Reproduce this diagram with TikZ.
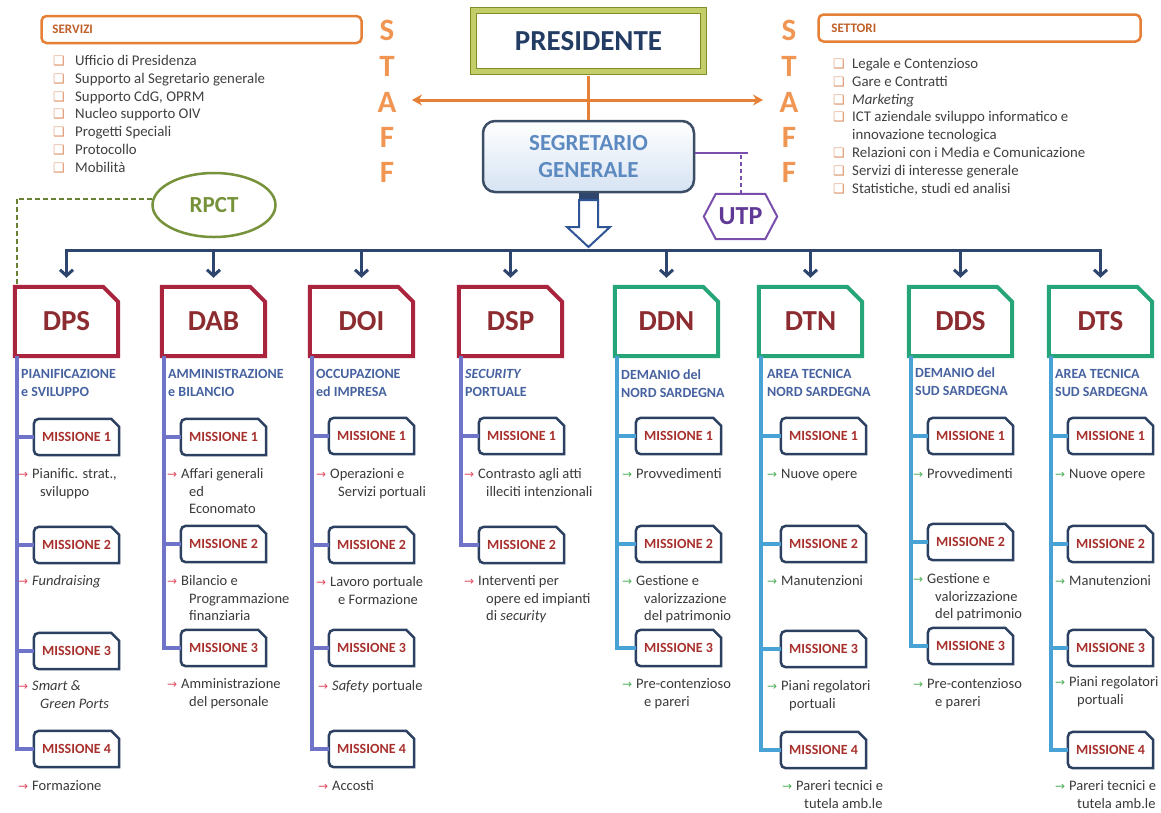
\documentclass[tikz,border=0pt]{standalone}
\usepackage{fontspec}
\setmainfont{Carlito}
\newfontfamily\symfont{DejaVu Sans}
\usetikzlibrary{arrows.meta,shapes.geometric}

\definecolor{staffor}{RGB}{241,150,82}
\definecolor{boxor}{RGB}{230,128,55}
\definecolor{hdror}{RGB}{192,96,40}
\definecolor{bulor}{RGB}{222,150,110}
\definecolor{listtx}{RGB}{64,64,64}
\definecolor{olivedk}{RGB}{130,140,40}
\definecolor{olivelt}{RGB}{196,206,104}
\definecolor{presid}{RGB}{35,60,100}
\definecolor{sgbd}{RGB}{60,78,102}
\definecolor{sgfill}{RGB}{214,227,243}
\definecolor{sgtx}{RGB}{92,138,192}
\definecolor{utpc}{RGB}{122,78,172}
\definecolor{utptx}{RGB}{96,56,150}
\definecolor{rpctc}{RGB}{118,146,58}
\definecolor{rpctdk}{RGB}{104,130,50}
\definecolor{busnavy}{RGB}{46,70,110}
\definecolor{blkarr}{RGB}{47,85,151}
\definecolor{dred}{RGB}{170,36,62}
\definecolor{dgreen}{RGB}{38,166,120}
\definecolor{dredtx}{RGB}{140,44,48}
\definecolor{subbl}{RGB}{70,98,160}
\definecolor{lavln}{RGB}{112,116,200}
\definecolor{skyln}{RGB}{72,162,214}
\definecolor{misbd}{RGB}{44,64,98}
\definecolor{mistx}{RGB}{168,48,44}
\definecolor{arrred}{RGB}{226,80,100}
\definecolor{arrgrn}{RGB}{86,178,96}
\definecolor{desctx}{RGB}{58,58,58}

\newcommand\setfs[2]{\fontsize{#1}{#2}\selectfont}
\newcommand\bulletsq{{\symfont\setfs{13}{13}\textcolor{bulor}{❑}}}
\newcommand\nobullet{}
\newcommand\arrowglyph{{\symfont\setfs{12}{12}→}}
\newcommand\contline{\\\hspace*{22pt}}

\tikzset{
  every node/.style={inner sep=0pt},
  listitem/.style={anchor=west, font=\setfs{14.8}{17.8}, text=listtx, text height=10, text depth=3},
  hdrbox/.style={draw=boxor, line width=2.5, rounded corners=5, minimum height=27},
  hdrtext/.style={anchor=west, font=\bfseries\setfs{13}{15}, text=hdror},
  staffl/.style={font=\bfseries\setfs{31}{31}, text=staffor, text height=20, text depth=0},
  presbox/.style={draw=olivedk, double=olivelt, double distance=5, line width=1,
    minimum width=230, minimum height=61, font=\bfseries\setfs{29}{29}, text=presid},
  stafflink/.style={draw=boxor, line width=3},
  sgbox/.style={draw=sgbd, line width=2.5, rounded corners=12, top color=white, bottom color=sgfill,
    minimum width=211, minimum height=71, align=center, font=\bfseries\setfs{23}{27}, text=sgtx},
  utpnode/.style={minimum width=73, minimum height=45, font=\bfseries\setfs{26}{26}, text=utptx},
  utpline/.style={draw=utpc, line width=2},
  rpctnode/.style={ellipse, draw=rpctc, line width=2.5, minimum width=123, minimum height=64,
    font=\bfseries\setfs{23}{23}, text=rpctc},
  rpctline/.style={draw=rpctdk, line width=2, dash pattern=on 5pt off 3pt},
  busline/.style={draw=busnavy, line width=3, line cap=rect},
  busarrow/.style={busline, -{Straight Barb[length=6pt,width=13pt]}, shorten >=9pt},
  blockarrow/.style={draw=blkarr, line width=2, fill=white, line join=miter},
  dirnode/.style={minimum width=103, minimum height=69, font=\bfseries\setfs{29}{29}, text=dredtx},
  dirline/.style={line width=4, line join=miter},
  subnode/.style={anchor=north west, align=left, font=\bfseries\setfs{14}{18}, text=subbl},
  misnode/.style={minimum width=85, minimum height=36, font=\bfseries\setfs{14}{14}, text=mistx},
  misline/.style={draw=misbd, line width=2.5},
  descnode/.style={anchor=north west, align=left, font=\setfs{14.5}{17.5}, text=desctx},
  redbranch/.style={draw=lavln, line width=3.5},
  bluebranch/.style={draw=skyln, line width=3.5},
}

% director box with the top right corner cut off
\newcommand\directorbox[4]{%
  \node[dirnode] (#1) at (#2+53.5,321.5) {#3};
  \draw[dirline, draw=#4] (#1.north west) -- ([xshift=-15]#1.north east)
    -- ([yshift=-15]#1.north east) -- (#1.south east) -- (#1.south west) -- cycle;}

% mission box: cut top right corner, rounded left corners
\newcommand\missionbox[4]{%
  \node[misnode] (#1) at (#2+43.5,#3) {MISSIONE #4};
  \draw[misline] ([yshift=-8]#1.north east) -- (#1.south east)
    [rounded corners=5] -- (#1.south west) -- (#1.north west)
    [sharp corners] -- ([xshift=-8]#1.north east) -- cycle;}

% mission description with a small arrow in front
\newcommand\missdesc[5]{%
  \node[descnode] (#1) at (#2,#3-7.5)
    {\makebox[14pt][l]{\rule{0pt}{11pt}\textcolor{#4}{\arrowglyph}}#5};}

\begin{document}
\begin{tikzpicture}[x=1pt,y=-1pt]
\useasboundingbox (0,0) rectangle (1161,812);
\fill[white] (0,0) rectangle (1161,812);

% ---------- staff: services and sectors ----------
\node[hdrbox, minimum width=320] (servizi) at (201.5,29.5) {};
\node[hdrtext] (servizit) at ([xshift=12]servizi.west) {SERVIZI};
\node[hdrbox, minimum width=322] (settori) at (979.5,28) {};
\node[hdrtext] (settorit) at ([xshift=14]settori.west) {SETTORI};

\foreach \t [count=\i] in {Ufficio di Presidenza, Supporto al Segretario generale,
  {Supporto CdG, OPRM}, Nucleo supporto OIV, Progetti Speciali, Protocollo, Mobilità}
  \node[listitem] (sv\i) at (53,62+17.8*\i-17.8) {\makebox[22pt][l]{\bulletsq}\t};

\foreach \b/\t [count=\i] in {\bulletsq/Legale e Contenzioso, \bulletsq/Gare e Contratti,
  \bulletsq/\textit{Marketing}, \bulletsq/ICT aziendale sviluppo informatico e,
  \nobullet/innovazione tecnologica, \bulletsq/Relazioni con i Media e Comunicazione,
  \bulletsq/Servizi di interesse generale, \bulletsq/{Statistiche, studi ed analisi}}
  \node[listitem] (st\i) at (833,65+17.8*\i-17.8) {\makebox[19pt][l]{\b}\t};

\foreach \l/\y [count=\i] in {S/30,T/66,A/102,F/137,F/172} {
  \node[staffl] (stl\i) at (387,\y) {\l};
  \node[staffl] (str\i) at (789,\y) {\l};
}

% ---------- top management ----------
\node[presbox] (pres) at (588.5,41) {PRESIDENTE};
\node[sgbox] (sg) at (588.5,156.5) {SEGRETARIO\\GENERALE};
\draw[stafflink, shorten <=3.5pt] (pres.south) -- (sg.north);
\coordinate (stfL) at (412,100);
\coordinate (stfR) at (763,100);
\draw[stafflink, {Stealth[length=10pt,width=11pt]}-{Stealth[length=10pt,width=11pt]}] (stfL) -- (stfR);

\node[utpnode] (utp) at (740.5,216.5) {UTP};
\draw[utpline, line join=miter] (utp.west) -- ([xshift=12]utp.north west)
  -- ([xshift=-12]utp.north east) -- (utp.east) -- ([xshift=-12]utp.south east)
  -- ([xshift=12]utp.south west) -- cycle;
\coordinate (utpj) at (748,153);
\draw[utpline] ([yshift=3.5]sg.east) -- (utpj);
\draw[utpline, dash pattern=on 4pt off 3pt] (utp.north) -- (utp.north |- utpj);

\fill[busnavy] ([xshift=-10]sg.south) rectangle ([xshift=10,yshift=-8]sg.south);
\draw[blockarrow] (579,200) -- (579,227) -- (567,227) -- (588.5,247) -- (610,227)
  -- (598,227) -- (598,200) -- cycle;

% ---------- DPS ----------
\directorbox{dps}{13}{DPS}{dred}
\node[subnode] (sdps) at (21,369.5) {PIANIFICAZIONE\\e SVILUPPO};
\missionbox{dpsa}{33}{437}{1}
\missionbox{dpsb}{33}{545}{2}
\missionbox{dpsc}{33}{651}{3}
\missionbox{dpsd}{33}{749}{4}
\coordinate (vdps) at ([xshift=2]dps.south west);
\draw[redbranch] (vdps) |- (dpsd.west);
\foreach \m in {a,b,c} \draw[redbranch] (vdps |- dps\m.west) -- (dps\m.west);
\missdesc{tdpsa}{18}{475}{arrred}{Pianific. strat.,\contline sviluppo}
\missdesc{tdpsb}{18}{582}{arrred}{\textit{Fundraising}}
\missdesc{tdpsc}{18}{687}{arrred}{\textit{Smart \&}\contline\textit{Green Ports}}
\missdesc{tdpsd}{18}{787}{arrred}{Formazione}

% ---------- DAB ----------
\directorbox{dab}{160}{DAB}{dred}
\node[subnode] (sdab) at (168,369.5) {AMMINISTRAZIONE\\e BILANCIO};
\missionbox{daba}{180}{437}{1}
\missionbox{dabb}{180}{544}{2}
\missionbox{dabc}{180}{648}{3}
\coordinate (vdab) at ([xshift=2]dab.south west);
\draw[redbranch] (vdab) |- (dabc.west);
\foreach \m in {a,b} \draw[redbranch] (vdab |- dab\m.west) -- (dab\m.west);
\missdesc{tdaba}{167}{475}{arrred}{Affari generali\contline ed\contline Economato}
\missdesc{tdabb}{167}{582}{arrred}{Bilancio e\contline Programmazione\contline finanziaria}
\missdesc{tdabc}{167}{685}{arrred}{Amministrazione\contline del personale}

% ---------- DOI ----------
\directorbox{doi}{308}{DOI}{dred}
\node[subnode] (sdoi) at (316,369.5) {OCCUPAZIONE\\ed IMPRESA};
\missionbox{doia}{328}{436}{1}
\missionbox{doib}{328}{545}{2}
\missionbox{doic}{328}{648}{3}
\missionbox{doid}{328}{749}{4}
\coordinate (vdoi) at ([xshift=2]doi.south west);
\draw[redbranch] (vdoi) |- (doid.west);
\foreach \m in {a,b,c} \draw[redbranch] (vdoi |- doi\m.west) -- (doi\m.west);
\missdesc{tdoia}{316}{475}{arrred}{Operazioni e\contline Servizi portuali}
\missdesc{tdoib}{316}{583}{arrred}{Lavoro portuale\contline e Formazione}
\missdesc{tdoic}{318}{687}{arrred}{\textit{Safety} portuale}
\missdesc{tdoid}{318}{787}{arrred}{Accosti}

% ---------- DSP ----------
\directorbox{dsp}{457}{DSP}{dred}
\node[subnode] (sdsp) at (465,369.5) {\textit{SECURITY}\\PORTUALE};
\missionbox{dspa}{478}{436}{1}
\missionbox{dspb}{478}{545}{2}
\coordinate (vdsp) at ([xshift=2]dsp.south west);
\draw[redbranch] (vdsp) |- (dspb.west);
\draw[redbranch] (vdsp |- dspa.west) -- (dspa.west);
\missdesc{tdspa}{464}{475}{arrred}{Contrasto agli atti\contline illeciti intenzionali}
\missdesc{tdspb}{464}{582}{arrred}{Interventi per\contline opere ed impianti\contline di \textit{security}}

% ---------- DDN ----------
\directorbox{ddn}{613}{DDN}{dgreen}
\node[subnode] (sddn) at (621,369.5) {DEMANIO del\\NORD SARDEGNA};
\missionbox{ddna}{635}{436}{1}
\missionbox{ddnb}{635}{544}{2}
\missionbox{ddnc}{635}{648}{3}
\coordinate (vddn) at ([xshift=2]ddn.south west);
\draw[bluebranch] (vddn) |- (ddnc.west);
\foreach \m in {a,b} \draw[bluebranch] (vddn |- ddn\m.west) -- (ddn\m.west);
\missdesc{tddna}{622}{475}{arrgrn}{Provvedimenti}
\missdesc{tddnb}{622}{582}{arrgrn}{Gestione e\contline valorizzazione\contline del patrimonio}
\missdesc{tddnc}{622}{685}{arrgrn}{Pre-contenzioso\contline e pareri}

% ---------- DTN ----------
\directorbox{dtn}{757}{DTN}{dgreen}
\node[subnode] (sdtn) at (767,369.5) {AREA TECNICA\\NORD SARDEGNA};
\missionbox{dtna}{780}{436}{1}
\missionbox{dtnb}{780}{544}{2}
\missionbox{dtnc}{780}{649}{3}
\missionbox{dtnd}{780}{750}{4}
\coordinate (vdtn) at ([xshift=2]dtn.south west);
\draw[bluebranch] (vdtn) |- (dtnd.west);
\foreach \m in {a,b,c} \draw[bluebranch] (vdtn |- dtn\m.west) -- (dtn\m.west);
\missdesc{tdtna}{767}{475}{arrgrn}{Nuove opere}
\missdesc{tdtnb}{767}{582}{arrgrn}{Manutenzioni}
\missdesc{tdtnc}{767}{687}{arrgrn}{Piani regolatori\contline portuali}
\missdesc{tdtnd}{782}{787}{arrgrn}{Pareri tecnici e\contline tutela amb.le}

% ---------- DDS ----------
\directorbox{dds}{907}{DDS}{dgreen}
\node[subnode] (sdds) at (915,367.5) {DEMANIO del\\SUD SARDEGNA};
\missionbox{ddsa}{927}{436}{1}
\missionbox{ddsb}{927}{542}{2}
\missionbox{ddsc}{927}{646}{3}
\coordinate (vdds) at ([xshift=2]dds.south west);
\draw[bluebranch] (vdds) |- (ddsc.west);
\foreach \m in {a,b} \draw[bluebranch] (vdds |- dds\m.west) -- (dds\m.west);
\missdesc{tddsa}{913}{475}{arrgrn}{Provvedimenti}
\missdesc{tddsb}{913}{580}{arrgrn}{Gestione e\contline valorizzazione\contline del patrimonio}
\missdesc{tddsc}{913}{685}{arrgrn}{Pre-contenzioso\contline e pareri}

% ---------- DTS ----------
\directorbox{dts}{1047}{DTS}{dgreen}
\node[subnode] (sdts) at (1055,369.5) {AREA TECNICA\\SUD SARDEGNA};
\missionbox{dtsa}{1067}{436}{1}
\missionbox{dtsb}{1067}{544}{2}
\missionbox{dtsc}{1067}{648}{3}
\missionbox{dtsd}{1067}{750}{4}
\coordinate (vdts) at ([xshift=2]dts.south west);
\draw[bluebranch] (vdts) |- (dtsd.west);
\foreach \m in {a,b,c} \draw[bluebranch] (vdts |- dts\m.west) -- (dts\m.west);
\missdesc{tdtsa}{1055}{475}{arrgrn}{Nuove opere}
\missdesc{tdtsb}{1055}{582}{arrgrn}{Manutenzioni}
\missdesc{tdtsc}{1055}{683}{arrgrn}{Piani regolatori\contline portuali}
\missdesc{tdtsd}{1055}{787}{arrgrn}{Pareri tecnici e\contline tutela amb.le}

% ---------- distribution line to the directorates ----------
\coordinate (busy) at (0,250);
\draw[busline] (dps.north |- busy) -- (dts.north |- busy);
\foreach \d in {dps,dab,doi,dsp,ddn,dtn,dds,dts}
  \draw[busarrow] (\d.north |- busy) -- (\d.north);

% ---------- RPCT ----------
\node[rpctnode] (rpct) at (214,205) {RPCT};
\draw[rpctline] (rpct.174) -| ([xshift=2]dps.north west);
\end{tikzpicture}
\end{document}
